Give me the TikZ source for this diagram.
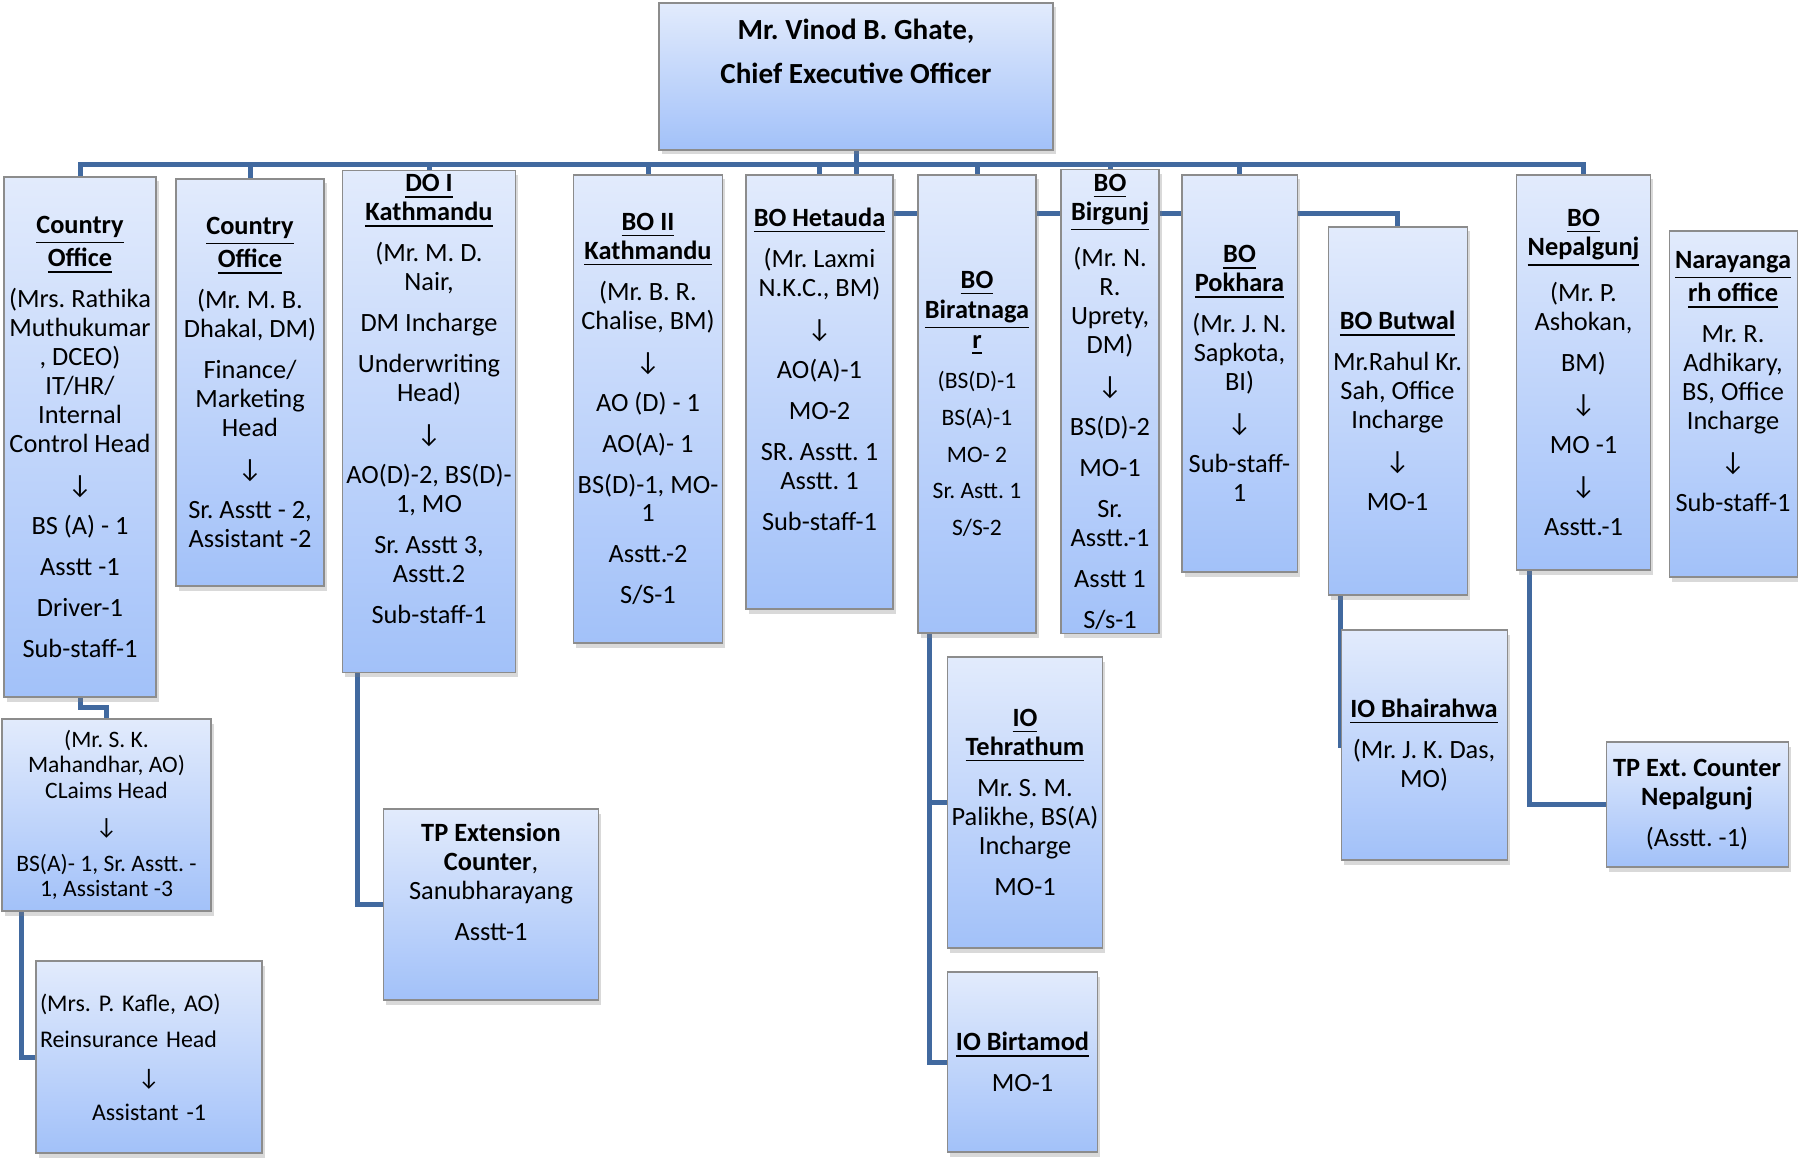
\documentclass[tikz,border=0pt]{standalone}
\usepackage{fontspec}
\setmainfont{Carlito}
\frenchspacing
\usetikzlibrary{shadows,backgrounds}
\definecolor{chartblue}{HTML}{41699F}
\definecolor{boxtop}{HTML}{E2EBFC}
\definecolor{boxbottom}{HTML}{A2C1F9}
\definecolor{boxedge}{HTML}{8C8C8C}
\newcommand{\ttl}[1]{\textbf{\underline{#1}}}
\newcommand{\bigttl}[1]{{\fontsize{7.5}{8.5}\selectfont\ttl{#1}}}
\newcommand{\gp}{\\[3.4pt]}
\newcommand{\dn}{↓}
\newcommand{\lift}[1]{\rule[-#1]{0pt}{#1}}
\tikzset{
  office/.style={draw=boxedge, line width=0.3pt, top color=boxtop, bottom color=boxbottom,
    drop shadow={shadow xshift=0.25mm, shadow yshift=-0.45mm, opacity=0.3},
    align=center, inner sep=0.4mm, font=\fontsize{7.5}{8.25}\selectfont},
  link/.style={draw=chartblue, line width=0.5mm}
}

\begin{document}
\begin{tikzpicture}[x=0.1mm, y=-0.1mm]
\useasboundingbox (0,0) rectangle (1798,1157);

\node[office, minimum width=39.4mm, minimum height=14.7mm, font=\fontsize{8.3}{9.1}\selectfont\bfseries] (ceo) at (856,76.5) {Mr. Vinod B. Ghate,\\[3.4pt]Chief Executive Officer\lift{5mm}};

\node[office, minimum width=15.2mm, minimum height=52mm] (co1) at (80,437) {\ttl{Country}\\\ttl{Office}\gp(Mrs. Rathika\\Muthukumar\\, DCEO)\\IT/HR/\\Internal\\Control Head\gp\dn\gp BS (A) - 1\gp Asstt -1\gp Driver-1\gp Sub-staff-1};
\node[office, minimum width=14.8mm, minimum height=40.7mm] (co2) at (250,382.5) {\ttl{Country}\\\ttl{Office}\gp(Mr. M. B.\\Dhakal, DM)\gp Finance/\\Marketing\\Head\gp\dn\gp Sr. Asstt - 2,\\Assistant -2};
\node[office, minimum width=17mm, minimum height=48.7mm] (do1) at (429,421.5) {\ttl{DO I}\\\ttl{Kathmandu}\gp(Mr. M. D.\\Nair,\gp DM Incharge\gp Underwriting\\Head)\gp\dn\gp AO(D)-2, BS(D)-\\1, MO\gp Sr. Asstt 3,\\Asstt.2\gp Sub-staff-1\lift{4.5mm}};
\node[office, minimum width=14.6mm, minimum height=46.8mm] (bo2) at (648,409) {\ttl{BO II}\\\ttl{Kathmandu}\gp(Mr. B. R.\\Chalise, BM)\gp\dn\gp AO (D) - 1\gp AO(A)- 1\gp BS(D)-1, MO-\\1\gp Asstt.-2\gp S/S-1};
\node[office, minimum width=14.7mm, minimum height=43.4mm] (het) at (819.5,392) {\ttl{BO Hetauda}\gp(Mr. Laxmi\\N.K.C., BM)\gp\dn\gp AO(A)-1\gp MO-2\gp SR. Asstt. 1\\Asstt. 1\gp Sub-staff-1\lift{4.6mm}};
\node[office, minimum width=11.8mm, minimum height=45.8mm, font=\fontsize{6.7}{8.5}\selectfont] (bir) at (977,404) {\bigttl{BO}\\\bigttl{Biratnaga}\\\bigttl{r}\\[2.9pt](BS(D)-1\\[2pt]BS(A)-1\\[2pt]MO- 2\\[2pt]Sr. Astt. 1\\[2pt]S/S-2};
\node[office, minimum width=9.8mm, minimum height=45.3mm] (brg) at (1110,401.5) {\ttl{BO}\\\ttl{Birgunj}\gp(Mr. N.\\R.\\Uprety,\\DM)\gp\dn\gp BS(D)-2\gp MO-1\gp Sr.\\Asstt.-1\gp Asstt 1\gp S/s-1};
\node[office, minimum width=11.5mm, minimum height=39.7mm] (pok) at (1239.5,373.5) {\ttl{BO}\\\ttl{Pokhara}\gp(Mr. J. N.\\Sapkota,\\BI)\gp\dn\gp Sub-staff-\\1};
\node[office, minimum width=13.9mm, minimum height=36.8mm] (but) at (1397.5,411) {\ttl{BO Butwal}\gp Mr.Rahul Kr.\\Sah, Office\\Incharge\gp\dn\gp MO-1};
\node[office, minimum width=13.45mm, minimum height=39.5mm] (nep) at (1583.5,372.5) {\ttl{BO}\\\ttl{Nepalgunj}\gp(Mr. P.\\Ashokan,\gp BM)\gp\dn\gp MO -1\gp\dn\gp Asstt.-1};
\node[office, minimum width=12.8mm, minimum height=34.6mm] (nar) at (1733,404) {\ttl{Narayanga}\\\ttl{rh office}\gp Mr. R.\\Adhikary,\\BS, Office\\Incharge\gp\dn\gp Sub-staff-1\lift{4.5mm}};

\node[office, minimum width=20.9mm, minimum height=19.2mm, font=\fontsize{6.7}{7.25}\selectfont] (clm) at (106.5,815) {(Mr. S. K.\\Mahandhar, AO)\\CLaims Head\\[3.1pt]\dn\\[3.1pt]BS(A)- 1, Sr. Asstt. -\\1, Assistant -3};
\node[office, minimum width=22.6mm, minimum height=19.2mm, text width=21.8mm, font=\fontsize{6.8}{7.4}\selectfont] (rei) at (149,1057) {\makebox[21.8mm][l]{(Mrs. P. Kafle, AO)}\\[2.9pt]\makebox[21.8mm][l]{Reinsurance Head}\\[3.3pt]\dn\\[2.6pt]Assistant -1};
\node[office, minimum width=21.45mm, minimum height=19.1mm] (tpx) at (491,904.5) {\textbf{TP Extension}\\\textbf{Counter},\\Sanubharayang\gp Asstt-1\lift{4.5mm}};
\node[office, minimum width=15.55mm, minimum height=29.1mm] (teh) at (1025,802.5) {\ttl{IO}\\\ttl{Tehrathum}\gp Mr. S. M.\\Palikhe, BS(A)\\Incharge\gp MO-1};
\node[office, minimum width=15mm, minimum height=18mm] (btm) at (1022.5,1062) {\ttl{IO Birtamod}\gp MO-1};
\node[office, minimum width=16.6mm, minimum height=23mm] (bha) at (1424,745) {\ttl{IO Bhairahwa}\gp(Mr. J. K. Das,\\MO)};
\node[office, minimum width=18.2mm, minimum height=12.5mm] (tpn) at (1697,804.5) {\textbf{TP Ext. Counter}\\\textbf{Nepalgunj}\gp(Asstt. -1)};

\begin{scope}[on background layer]
\draw[link] (ceo.south) -- ++(0,14) -| (co1.north);
\draw[link] (ceo.south) -- ++(0,14) -| (co2.north);
\draw[link] (ceo.south) -- ++(0,14) -| (do1.north);
\draw[link] (ceo.south) -- ++(0,14) -| (bo2.north);
\draw[link] (ceo.south) -- ++(0,14) -| (het.north);
\draw[link] (ceo.south) -- ++(0,14) -| (bir.north);
\draw[link] (ceo.south) -- ++(0,14) -| (brg.north);
\draw[link] (ceo.south) -- ++(0,14) -| (pok.north);
\draw[link] (ceo.south) -- ++(0,14) -| (nep.north);
\draw[link] (ceo.south) -- ++(0,63) -| (but.north);

\draw[link] (co1.south) -- ++(0,10) -| (clm.north);
\draw[link] ([xshift=2.05mm]clm.south west) |- (rei.west);
\draw[link] ([xshift=1.6mm]do1.south west) |- (tpx.west);
\draw[link] ([xshift=1.2mm]bir.south west) |- (teh.west);
\draw[link] ([xshift=1.2mm]bir.south west) |- (btm.west);
\draw[link] ([xshift=1.3mm]but.south west) |- (bha.west);
\draw[link] ([xshift=1.35mm]nep.south west) |- (tpn.west);
\end{scope}
\end{tikzpicture}
\end{document}
